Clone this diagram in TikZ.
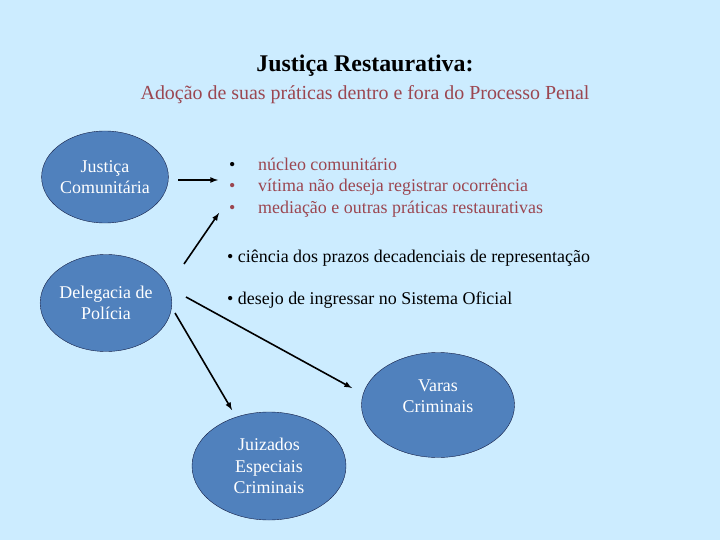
\documentclass[tikz,border=0pt]{standalone}
\usepackage{fontspec}
\setmainfont{Liberation Serif}
\usepackage{tikz}
\usetikzlibrary{shapes,arrows,positioning,shapes.geometric}
\definecolor{tikzsky}{RGB}{204,236,255}
\definecolor{tikzblue}{RGB}{80,129,189}
\definecolor{tikzdarkblue}{RGB}{20,30,70}
\definecolor{tikzrose}{RGB}{155,70,80}

\begin{document}
\begin{tikzpicture}[
        x=1bp, y=-1bp,
        court/.style={ellipse, draw=tikzdarkblue, fill=tikzblue, thin, text=white, align=center, inner sep=0pt, font=\fontsize{18}{21.5}\selectfont},
        courttext/.style={text=white, align=center, inner sep=0pt, font=\fontsize{18}{21.5}\selectfont},
        item/.style={anchor=west, align=left, inner sep=0pt, font=\fontsize{18}{21.5}\selectfont},
        flow/.style={line width=1.6bp, -latex}
    ]
        % Background
        \fill[tikzsky] (0,0) rectangle (720,540);
        \useasboundingbox (0,0) rectangle (720,540);

        % Title
        \node[font=\fontsize{24}{28}\selectfont\bfseries] (tTitle) at (365,66) {Justiça Restaurativa:};
        \node[font=\fontsize{20}{24}\selectfont, text=tikzrose] (tSub) at (365,95) {Adoção de suas práticas dentro e fora do Processo Penal};

        % Justica Comunitaria
        \node[court, minimum width=126bp, minimum height=92bp] (ndJustica) at (105,177) {Justiça\\Comunitária};

        % Delegacia de Policia
        \node[court, minimum width=125bp, minimum height=97bp] (ndDelegacia) at (106,303) {Delegacia de\\Polícia};

        % Varas Criminais
        \node[court, minimum width=153bp, minimum height=105bp,
              label={[courttext, yshift=9bp]center:Varas\\Criminais}] (ndVaras) at (438,405) {};

        % Juizados Especiais Criminais
        \node[court, minimum width=154bp, minimum height=108bp] (ndJuizados) at (269,466) {Juizados\\Especiais\\Criminais};

        % Bullet lists
        \node[item, text=tikzrose] (lsPraticas) at (229,187.5) {
            \makebox[29bp][l]{\color{black}\textbullet}núcleo comunitário\\
            \makebox[29bp][l]{\textbullet}vítima não deseja registrar ocorrência\\
            \makebox[29bp][l]{\textbullet}mediação e outras práticas restaurativas
        };
        \node[item] (lsCiencia) at (227,258) {\textbullet{} ciência dos prazos decadenciais de representação};
        \node[item] (lsDesejo) at (227,300) {\textbullet{} desejo de ingressar no Sistema Oficial};

        % Arrow ends
        \coordinate (ptJusticaOut) at (178,180);
        \coordinate (ptPraticasIn) at (218,180);
        \coordinate (ptDelegaciaUp) at (184,264);
        \coordinate (ptPraticasLow) at (219,213);
        \coordinate (ptDelegaciaMid) at (186,297);
        \coordinate (ptVarasIn) at (352,388);
        \coordinate (ptDelegaciaLow) at (175,313);
        \coordinate (ptJuizadosIn) at (232,410);

        % Arrows
        \draw[flow] (ptJusticaOut) -- (ptPraticasIn);
        \draw[flow] (ptDelegaciaUp) -- (ptPraticasLow);
        \draw[flow] (ptDelegaciaMid) -- (ptVarasIn);
        \draw[flow] (ptDelegaciaLow) -- (ptJuizadosIn);
    \end{tikzpicture}
\end{document}
